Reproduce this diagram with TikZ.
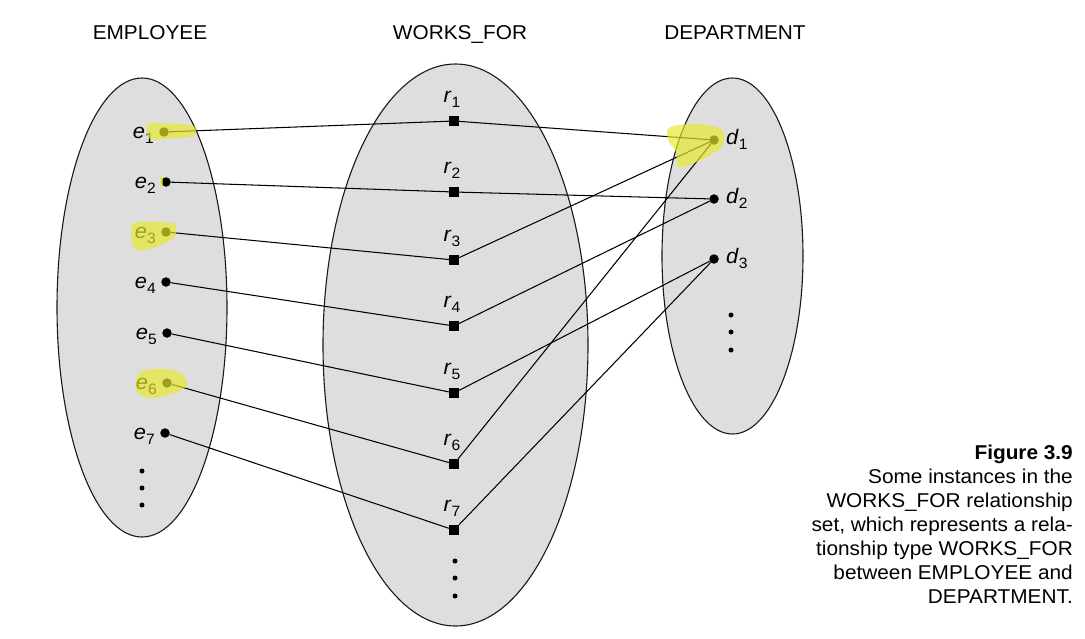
\documentclass[tikz,border=0pt]{standalone}
\usepackage{fontspec}
\setmainfont[FakeStretch=1.04]{Liberation Sans}
\usetikzlibrary{shapes.geometric}
\definecolor{setfill}{RGB}{222,222,222}
\definecolor{hl}{RGB}{232,232,45}
\newcommand\sublab[2]{\textit{#1}\raisebox{-5pt}{\fontsize{15}{15}\selectfont #2}}
\begin{document}
\begin{tikzpicture}[x=1pt,y=-1pt,
  setell/.style={ellipse, draw=black!90, line width=1.1pt, fill=setfill, inner sep=0},
  ent/.style={circle, fill=black, inner sep=0, minimum size=9.5pt},
  rel/.style={rectangle, fill=black, inner sep=0, minimum size=10pt},
  more/.style={circle, fill=black, inner sep=0, minimum size=5pt},
  conn/.style={draw=black, line width=1.05pt},
  title/.style={font=\fontsize{20}{24}\selectfont, anchor=base, inner sep=0},
  lab/.style={font=\fontsize{21}{24}\selectfont, inner sep=0},
  hlmark/.style={fill=hl, opacity=0.68, draw=none}]
\useasboundingbox (0,0) rectangle (1085,638);

% titles
\node[title] (tE) at (150,39) {EMPLOYEE};
\node[title] (tW) at (460,39) {WORKS\_FOR};
\node[title] (tD) at (735,39) {DEPARTMENT};

% sets
\node[setell, minimum width=170pt, minimum height=459pt] (E) at (142,307.5) {};
\node[setell, minimum width=265pt, minimum height=562pt] (W) at (455.5,345) {};
\node[setell, minimum width=141pt, minimum height=356pt] (D) at (732.5,256) {};

% entity dots
\node[ent] (e1) at (164,132) {};
\node[ent] (e2) at (166,182) {};
\node[ent] (e3) at (166,232) {};
\node[ent] (e4) at (166,282) {};
\node[ent] (e5) at (167,333) {};
\node[ent] (e6) at (167,383) {};
\node[ent] (e7) at (165,433) {};

\node[ent] (d1) at (714,140) {};
\node[ent] (d2) at (714,199) {};
\node[ent] (d3) at (714,259) {};

\node[rel] (r1) at (454,121) {};
\node[rel] (r2) at (454,192) {};
\node[rel] (r3) at (454,260) {};
\node[rel] (r4) at (454,326) {};
\node[rel] (r5) at (454,393) {};
\node[rel] (r6) at (454,464) {};
\node[rel] (r7) at (454,530) {};

% connectors
\draw[conn] (e1) -- (r1) -- (d1);
\draw[conn] (e2) -- (r2) -- (d2);
\draw[conn] (e3) -- (r3) -- (d1);
\draw[conn] (e4) -- (r4) -- (d2);
\draw[conn] (e5) -- (r5) -- (d3);
\draw[conn] (e6) -- (r6) -- (d1);
\draw[conn] (e7) -- (r7) -- (d3);

% labels
\foreach \i in {1,...,7}{
  \node[lab, anchor=base east] (le\i) at ([xshift=-10pt,yshift=-6.5pt]e\i.center) {\sublab{e}{\i}};
  \node[lab, anchor=base] (lr\i) at ([xshift=-2pt,yshift=18.5pt]r\i.center) {\sublab{r}{\i}};
}
\foreach \i in {1,2,3}{
  \node[lab, anchor=base west] (ld\i) at ([xshift=12pt,yshift=-4.5pt]d\i.center) {\sublab{d}{\i}};
}

% continuation dots
\node[more] (me1) at (142,471) {};
\node[more] (me2) at (142,488) {};
\node[more] (me3) at (142,505) {};
\node[more] (mr1) at (455,561) {};
\node[more] (mr2) at (455,578) {};
\node[more] (mr3) at (455,596) {};
\node[more] (md1) at (731,315) {};
\node[more] (md2) at (731,332) {};
\node[more] (md3) at (731,350) {};

% highlighter marks
\fill[hlmark] plot[smooth cycle] coordinates {(148,124) (170,123.5) (194,126) (194,136) (170,138.5) (150,139)};
\fill[hlmark] (159.5,177) rectangle (162.5,186);
\fill[hlmark] plot[smooth cycle] coordinates {(133,224) (155,222) (175,224) (175,236) (165,243) (145,250) (133,247)};
\fill[hlmark] plot[smooth cycle] coordinates {(140,372) (165,369) (182,374) (187,385) (175,393) (150,398) (136,391)};
\fill[hlmark] plot[smooth cycle] coordinates {(670,127) (700,124) (722,130) (723,145) (710,155) (690,165) (678,167) (676,152) (668,140)};

% caption
\node[anchor=north east, inner sep=0, align=right, font=\fontsize{20}{24}\selectfont] (cap) at (1073,445)
 {{\bfseries Figure 3.9}\\Some instances in the\\WORKS\_FOR relationship\\set, which represents a rela-\\tionship type WORKS\_FOR\\between EMPLOYEE and\\DEPARTMENT.};
\end{tikzpicture}
\end{document}
